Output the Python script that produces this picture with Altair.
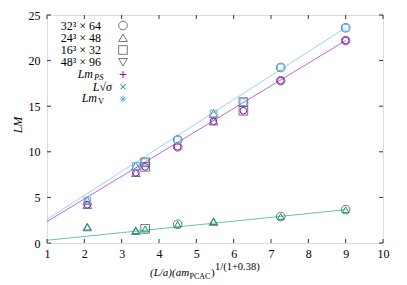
import altair as alt
import pandas as pd

# ---------------- data ----------------
x_pos = [2.08, 3.38, 3.63, 4.50, 5.46, 6.26, 7.26, 9.00]
lattice = ["24³ × 48", "24³ × 48", "16³ × 32", "32³ × 64",
           "24³ × 48", "16³ × 32", "32³ × 64", "32³ × 64"]
lm_ps = [4.2, 7.7, 8.35, 10.55, 13.35, 14.5, 17.8, 22.2]
lm_v = [4.65, 8.45, 8.85, 11.3, 14.2, 15.45, 19.25, 23.6]
l_sqrt_sigma = [1.75, 1.35, 1.55, 2.05, 2.35, None, 2.9, 3.65]

fit_x = [1.0, 9.0]
fit_ps = [2.35, 22.2]
fit_v = [2.6, 23.6]
fit_sigma = [0.3, 3.65]

lattice_names = ["32³ × 64", "24³ × 48", "16³ × 32", "48³ × 96"]
obs_names = ["LmPS", "Lsigma", "LmV"]
x_ticks = [1, 2, 3, 4, 5, 6, 7, 8, 9, 10]
y_ticks = [0, 5, 10, 15, 20, 25]

# ---------------- styles ----------------
FONT = "Liberation Serif"
W, H = 336, 228
obs_colors = ["#9400d3", "#009e73", "#56b4e9"]
lattice_shapes = ["circle", "triangle-up", "square", "triangle-down"]
PLUS = "M-1,0L1,0M0,-1L0,1"
CROSS = "M-0.8,-0.8L0.8,0.8M-0.8,0.8L0.8,-0.8"
STAR = "M-1,0L1,0M0,-1L0,1M-0.7,-0.7L0.7,0.7M-0.7,0.7L0.7,-0.7"
obs_shapes = [PLUS, CROSS, STAR]
OUTLINE = "#555555"
AXC = "#333333"

# ---------------- tables ----------------
rows = []
for xv, lat, a, b, c in zip(x_pos, lattice, lm_ps, l_sqrt_sigma, lm_v):
    for name, v in zip(obs_names, [a, b, c]):
        if v is not None:
            rows.append({"x": xv, "value": v, "obs": name, "lattice": lat})
pts = pd.DataFrame(rows)

fit_rows = []
for name, ys in zip(obs_names, [fit_ps, fit_sigma, fit_v]):
    for xv, yv in zip(fit_x, ys):
        fit_rows.append({"x": xv, "value": yv, "obs": name})
fits = pd.DataFrame(fit_rows)

xscale = alt.Scale(domain=[1, 10], nice=False, zero=False)
yscale = alt.Scale(domain=[0, 25], nice=False, zero=False)
color_scale = alt.Scale(domain=obs_names, range=obs_colors)

x_axis = alt.Axis(values=x_ticks, ticks=False, domain=False, grid=False, title=None,
                  labelFont=FONT, labelFontSize=12, labelColor="#000", labelPadding=5,
                  labelFlush=False, format="d")
y_axis = alt.Axis(values=y_ticks, ticks=False, domain=False, grid=False, title=None,
                  labelFont=FONT, labelFontSize=12, labelColor="#000", labelPadding=7,
                  format="d")


def X(field):
    return alt.X(field, scale=xscale, axis=x_axis)


def Y(field):
    return alt.Y(field, scale=yscale, axis=y_axis)


lines = alt.Chart(fits).mark_line(strokeWidth=1, opacity=0.6).encode(
    x=X("x:Q"), y=Y("value:Q"),
    color=alt.Color("obs:N", scale=color_scale, legend=None),
    detail="obs:N",
)

outlines = alt.Chart(pts).mark_point(filled=False, size=75, strokeWidth=0.8,
                                     color=OUTLINE, opacity=1).encode(
    x=X("x:Q"), y=Y("value:Q"),
    shape=alt.Shape("lattice:N", scale=alt.Scale(domain=lattice_names, range=lattice_shapes),
                    legend=None),
)

glyphs = alt.Chart(pts).mark_point(filled=False, size=45, strokeWidth=1, opacity=1).encode(
    x=X("x:Q"), y=Y("value:Q"),
    color=alt.Color("obs:N", scale=color_scale, legend=None),
    shape=alt.Shape("obs:N", scale=alt.Scale(domain=obs_names, range=obs_shapes), legend=None),
)

# inward tick marks on all four sides
xt = pd.DataFrame({"x": x_ticks})
yt = pd.DataFrame({"value": y_ticks})
tick_b = alt.Chart(xt).mark_rule(color=AXC, strokeWidth=1).encode(
    x=X("x:Q"), y=alt.value(H), y2=alt.value(H - 4))
tick_t = alt.Chart(xt).mark_rule(color=AXC, strokeWidth=1).encode(
    x=X("x:Q"), y=alt.value(0), y2=alt.value(4))
tick_l = alt.Chart(yt).mark_rule(color=AXC, strokeWidth=1).encode(
    y=Y("value:Q"), x=alt.value(0), x2=alt.value(4))
tick_r = alt.Chart(yt).mark_rule(color=AXC, strokeWidth=1).encode(
    y=Y("value:Q"), x=alt.value(W), x2=alt.value(W - 4))

one = alt.Data(values=[{"a": 0}])


def txt(s, x, y, size=12, align="left", baseline="alphabetic", style="normal", angle=0):
    kw = dict(text=s, font=FONT, fontSize=size, align=align, baseline=baseline,
              fontStyle=style, color="#000")
    if angle:
        kw["angle"] = angle
    return alt.Chart(one).mark_text(**kw).encode(x=alt.value(x), y=alt.value(y))


layers = [lines, outlines, glyphs, tick_b, tick_t, tick_l, tick_r]

# ---------------- legend (inside, top-left) ----------------
row_y = [10.5 + 12.25 * i for i in range(7)]
SYM_X = 76
for i, (name, shp) in enumerate(zip(lattice_names, lattice_shapes)):
    layers.append(txt(name, 54, row_y[i], size=12, align="right", baseline="middle"))
    layers.append(alt.Chart(one).mark_point(shape=shp, filled=False, size=75, strokeWidth=0.8,
                                            color=OUTLINE, opacity=1)
                  .encode(x=alt.value(SYM_X), y=alt.value(row_y[i])))
# Lm_PS
layers.append(txt("Lm", 46, row_y[4] + 3, size=12, align="right", style="italic"))
layers.append(txt("PS", 47, row_y[4] + 5, size=8.5, style="italic"))
# L sqrt(sigma)
layers.append(txt("L√σ", 65, row_y[5] + 4, size=12, align="right", style="italic"))
# Lm_V
layers.append(txt("Lm", 50, row_y[6] + 3, size=12, align="right", style="italic"))
layers.append(txt("V", 51, row_y[6] + 5, size=8.5))
for j, (shp, col) in enumerate(zip(obs_shapes, obs_colors)):
    layers.append(alt.Chart(one).mark_point(shape=shp, filled=False, size=45, strokeWidth=1,
                                            color=col, opacity=1)
                  .encode(x=alt.value(SYM_X), y=alt.value(row_y[4 + j])))

# ---------------- axis titles ----------------
layers.append(txt("LM", -29, 110, size=12, align="center", baseline="middle",
                  style="italic", angle=270))
BY = 261
layers.append(txt("(L/a)(am", 103, BY, size=11, style="italic"))
layers.append(txt("PCAC", 142.5, BY + 3, size=8))
layers.append(txt(")", 164, BY, size=11))
layers.append(txt("1/(1+0.38)", 168, BY - 6, size=10.5))

chart = alt.layer(*layers).properties(
    width=W, height=H,
    autosize=alt.AutoSizeParams(type="none"),
    padding={"left": 39, "top": 7, "right": 16, "bottom": 46},
).configure_view(stroke=AXC, strokeWidth=1).configure(background="white")

chart.save("out.html", embed_options={"renderer": "svg", "actions": False})
